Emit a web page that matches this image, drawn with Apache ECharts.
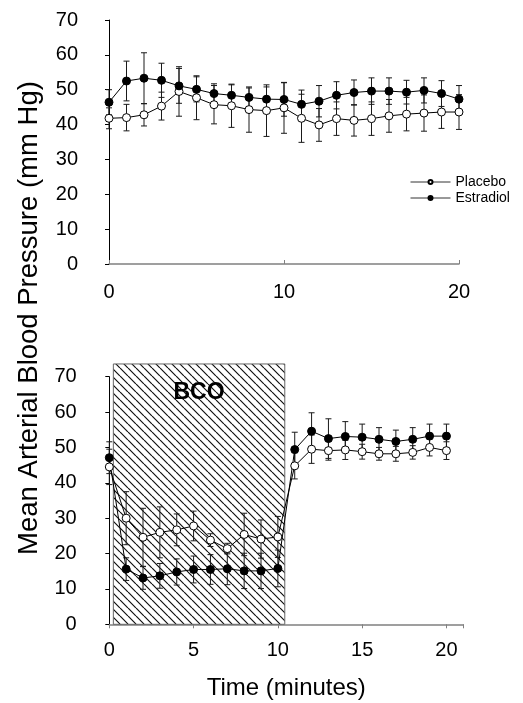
<!DOCTYPE html>
<html><head><meta charset="utf-8">
<script src="https://cdn.jsdelivr.net/npm/echarts@6/dist/echarts.min.js"></script>
<style>html,body{margin:0;padding:0;background:#fff}#c{width:523px;height:703px}</style>
</head><body><div id="c"></div>
<script>
// ---- data ----
const times = [0,1,2,3,4,5,6,7,8,9,10,11,12,13,14,15,16,17,18,19,20];
const seriesNames = ['Placebo','Estradiol'];
const topPlacebo      = [41.8,42.0,42.8,45.3,49.5,47.7,45.7,45.4,44.3,44.0,44.8,41.8,39.9,41.7,41.2,41.7,42.5,43.0,43.3,43.6,43.6];
const topPlaceboErr   = [3.0,3.8,3.2,4.0,7.1,6.3,5.5,6.2,6.5,7.4,7.3,6.9,4.7,4.8,4.5,4.8,4.7,4.8,5.2,4.7,5.0];
const topEstradiol    = [46.4,52.5,53.3,52.7,51.1,50.1,48.9,48.4,47.8,47.3,47.2,45.8,46.7,48.4,49.2,49.6,49.6,49.3,49.8,48.9,47.3];
const topEstradiolErr = [3.6,5.7,7.3,4.9,5.0,3.6,2.8,3.0,2.7,3.5,4.8,4.1,4.5,3.9,3.6,3.8,3.8,3.4,3.6,3.7,3.9];
const botPlacebo      = [44.5,30.0,24.6,26.0,26.7,27.8,23.8,21.4,25.4,24.1,24.7,44.8,49.5,49.1,49.3,48.8,48.2,48.2,48.6,50.0,49.1];
const botPlaceboErr   = [5.0,7.5,8.2,7.2,4.5,4.2,1.8,1.5,6.0,5.4,5.8,3.7,4.0,2.7,2.7,2.1,1.8,2.1,1.9,2.4,2.5];
const botEstradiol    = [47.1,15.6,13.1,13.7,14.8,15.5,15.5,15.7,15.1,15.1,15.8,49.4,54.6,52.5,53.1,52.9,52.3,51.7,52.3,53.2,53.2];
const botEstradiolErr = [4.5,3.2,3.2,3.5,3.7,3.8,4.2,4.5,5.0,5.0,5.2,4.9,5.2,5.6,4.2,3.7,3.3,3.2,3.3,3.4,3.4];
const bcoStart = 0.24, bcoEnd = 10.41, bcoTop = 73.6, bcoLabelY = 66, bcoLabel = 'BCO';
const yTicks = [0,10,20,30,40,50,60,70];
const yTitle = 'Mean Arterial Blood Pressure (mm Hg)';
const xTitle = 'Time (minutes)';

// ---- chart ----
const FONT = 'Arial, "Liberation Sans", sans-serif';
const chart = echarts.init(document.getElementById('c'), null, {renderer:'canvas'});

function hatchCanvas(){
  const c = document.createElement('canvas'); c.width = 8; c.height = 8;
  const g = c.getContext('2d');
  g.fillStyle = '#fff'; g.fillRect(0,0,8,8);
  g.strokeStyle = '#111'; g.lineWidth = 1.2; g.beginPath();
  [-8,0,8].forEach(o => { g.moveTo(o,0); g.lineTo(o+8,8); });
  g.stroke();
  return c;
}
const hatch = hatchCanvas();

function pts(vals){ return times.map((t,i)=>[t, vals[i]]); }

function errSeries(gi, vals, errs){
  return {
    type:'custom', xAxisIndex:gi, yAxisIndex:gi, z:3, silent:true, clip:false,
    data: times.map((t,i)=>[t, vals[i], errs[i]]),
    renderItem(params, api){
      const x = api.value(0), v = api.value(1), e = api.value(2);
      const a = api.coord([x, v+e]), b = api.coord([x, v-e]);
      const w = 3, st = {stroke:'#1a1a1a', lineWidth:1};
      return {type:'group', children:[
        {type:'line', shape:{x1:a[0],y1:a[1],x2:b[0],y2:b[1]}, style:st},
        {type:'line', shape:{x1:a[0]-w,y1:a[1],x2:a[0]+w,y2:a[1]}, style:st},
        {type:'line', shape:{x1:b[0]-w,y1:b[1],x2:b[0]+w,y2:b[1]}, style:st}
      ]};
    }
  };
}

function lineSeries(gi, name, vals, filled){
  return {
    type:'line', name:name, xAxisIndex:gi, yAxisIndex:gi, z:5,
    data: pts(vals), symbol:'circle', symbolSize:8, showAllSymbol:true,
    itemStyle:{color: filled ? '#000' : '#fff', borderColor:'#000', borderWidth:1},
    lineStyle:{color:'#000', width:1}, emphasis:{disabled:true}
  };
}

function yAxis(gi, off){
  return {
    type:'value', gridIndex:gi, min:yTicks[0], max:yTicks[yTicks.length-1], interval:10, offset:off,
    axisLine:{show:true, lineStyle:{color:'#000', width:1}},
    axisTick:{show:true, length:4, lineStyle:{color:'#000'}},
    axisLabel:{fontSize:20, color:'#000', fontFamily:FONT, margin:15},
    splitLine:{show:false}
  };
}

const option = {
  animation:false,
  backgroundColor:'#fff',
  grid:[
    {left:109, right:64, top:20, height:244},
    {left:109.3, right:59.7, top:376.7, height:247.6}
  ],
  xAxis:[
    {type:'value', gridIndex:0, min:0, max:20, interval:10, offset:2,
     axisLine:{lineStyle:{color:'#808080', width:1.5}},
     axisTick:{inside:true, length:4, lineStyle:{color:'#808080'}},
     axisLabel:{fontSize:20, color:'#000', fontFamily:FONT, margin:16},
     splitLine:{show:false}},
    {type:'value', gridIndex:1, min:0, max:21, interval:5,
     axisLine:{lineStyle:{color:'#808080', width:1.5}},
     axisTick:{length:4, lineStyle:{color:'#808080'}},
     axisLabel:{fontSize:20, color:'#000', fontFamily:FONT, margin:16,
       formatter: v => (v % 5 === 0 && v <= 20) ? String(v) : ''},
     splitLine:{show:false},
     name:xTitle, nameLocation:'middle', nameGap:52,
     nameTextStyle:{fontSize:24, color:'#000', fontFamily:FONT}}
  ],
  yAxis:[ yAxis(0, 16), yAxis(1, 17.6) ],
  legend:{
    data:seriesNames, orient:'vertical', left:405, top:170,
    itemWidth:40, itemHeight:5, itemGap:2,
    lineStyle:{width:1, color:'#333'},
    textStyle:{fontSize:14, color:'#000', fontFamily:FONT}
  },
  graphic:[
    {type:'text', x:29, y:318, rotation:Math.PI/2,
     style:{text:yTitle, font:'27.5px ' + FONT, fill:'#000', textAlign:'center', textVerticalAlign:'middle'}}
  ],
  series:[
    {
      type:'custom', xAxisIndex:1, yAxisIndex:1, z:1, silent:true, clip:false,
      data:[[bcoStart, bcoEnd, bcoTop, bcoLabelY]],
      renderItem(params, api){
        const p0 = api.coord([api.value(0), 0]);
        const p1 = api.coord([api.value(1), api.value(2)]);
        const ly = api.coord([0, api.value(3)])[1];
        return {type:'group', children:[
          {type:'rect', shape:{x:p0[0], y:p1[1], width:p1[0]-p0[0], height:p0[1]-p1[1]},
           style:{fill:{image:hatch, repeat:'repeat'}, stroke:'#666', lineWidth:1}},
          {type:'text', x:(p0[0]+p1[0])/2, y:ly+2,
           style:{text:bcoLabel, font:'bold 23px ' + FONT, fill:'#000', textAlign:'center', textVerticalAlign:'middle'}}
        ]};
      }
    },
    errSeries(0, topPlacebo, topPlaceboErr),
    errSeries(0, topEstradiol, topEstradiolErr),
    errSeries(1, botPlacebo, botPlaceboErr),
    errSeries(1, botEstradiol, botEstradiolErr),
    lineSeries(0, seriesNames[0], topPlacebo, false),
    lineSeries(0, seriesNames[1], topEstradiol, true),
    lineSeries(1, seriesNames[0], botPlacebo, false),
    lineSeries(1, seriesNames[1], botEstradiol, true)
  ]
};
chart.setOption(option);
</script>
</body></html>
